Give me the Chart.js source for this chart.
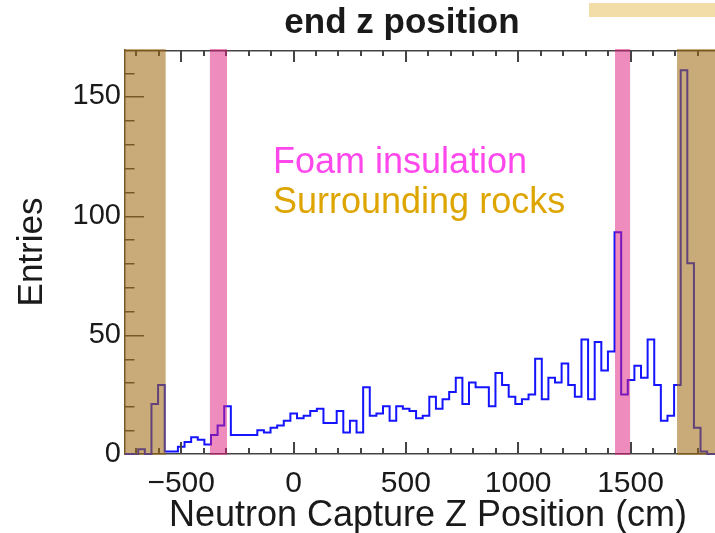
<!DOCTYPE html>
<html>
<head>
<meta charset="utf-8">
<title>end z position</title>
<script src="https://cdn.jsdelivr.net/npm/chart.js@4.4.1/dist/chart.umd.min.js"></script>
<style>
  html, body { margin: 0; padding: 0; background: #fff; }
  #wrap { width: 715px; height: 533px; }
</style>
</head>
<body>
<div id="wrap"><canvas id="chart" width="715" height="533"></canvas></div>
<script>
// histogram binning (cm)
const zLow = -750;
const zHigh = 1900;
const nBins = 90;
// the right side of the frame is cut off in the original picture
const zShownMax = 1876;

// entries per bin
const entries = [
  0, 0, 2, 0, 21, 29, 1, 1, 3, 5,
  7, 6, 4, 8, 12, 20, 8, 8, 8, 8,
  10, 9, 11, 12, 14, 17, 15, 16, 18, 19,
  13, 13, 18, 9, 14, 9, 28, 16, 17, 20,
  14, 20, 19, 18, 15, 16, 24, 19, 23, 26,
  32, 21, 30, 28, 28, 20, 34, 29, 24, 21,
  23, 25, 40, 23, 32, 30, 38, 29, 24, 48,
  23, 47, 35, 43, 93, 25, 31, 37, 32, 48,
  29, 14, 16, 29, 161, 80, 11, 1, 0, 0
];

const xTicks = [-500, 0, 500, 1000, 1500];
const yTicks = [0, 50, 100, 150];

// shaded material regions (cm)
const foamRanges = [[-372, -296], [1431, 1498]];
const rockRanges = [[-750, -569], [1707, 1900]];

const FONT = 'Liberation Sans, Arial, Helvetica, sans-serif';

const edges = [];
for (let i = 0; i <= nBins; i++) edges.push(zLow + i * (zHigh - zLow) / nBins);
const points = entries.map((n, i) => ({ x: edges[i], y: n }));
points.push({ x: edges[nBins], y: entries[nBins - 1] });

// frame, inward ticks, shaded regions and free text
const rootFrame = {
  id: 'rootFrame',
  afterDatasetsDraw(chart) {
    const ctx = chart.ctx;
    const a = chart.chartArea;
    const xs = chart.scales.x;
    const ys = chart.scales.y;
    ctx.save();

    ctx.fillStyle = '#444';
    ctx.fillRect(a.left, a.top, a.right - a.left, 1.5);
    for (let i = -7; i <= 18; i++) {
      const px = Math.round(xs.getPixelForValue(i * 100)) - 1;
      const len = i % 5 === 0 ? 12 : 6;
      ctx.fillRect(px, a.bottom - len, 2, len);
      ctx.fillRect(px, a.top, 2, len);
    }
    for (let i = 1; i <= 16; i++) {
      const py = Math.round(ys.getPixelForValue(i * 10));
      const len = i % 5 === 0 ? 19 : 9.5;
      ctx.fillRect(a.left, py, len, 1.5);
    }

    const band = (ranges, color) => {
      ctx.fillStyle = color;
      ranges.forEach(([lo, hi]) => {
        let x0 = xs.getPixelForValue(lo), x1 = xs.getPixelForValue(hi);
        if (lo <= zLow) x0 = a.left - 1;
        x1 = Math.min(x1, chart.width);
        ctx.fillRect(x0, a.top - 1, x1 - x0, a.bottom - a.top + 2);
      });
    };
    band(rockRanges, 'rgba(159,104,16,0.56)');
    band(foamRanges, 'rgba(221,25,125,0.5)');

    ctx.textAlign = 'left';
    ctx.textBaseline = 'alphabetic';
    ctx.font = '36px ' + FONT;
    ctx.fillStyle = '#ff48ec';
    ctx.fillText('Foam insulation', 273, 173);
    ctx.fillStyle = '#dea500';
    ctx.fillText('Surrounding rocks', 273, 213);

    ctx.textAlign = 'center';
    ctx.font = 'bold 35px ' + FONT;
    ctx.fillStyle = '#1a1a1a';
    ctx.fillText('end z position', 402, 33);

    // x axis title sits a little right of the plot centre in the original
    ctx.font = '36px ' + FONT;
    ctx.fillText('Neutron Capture Z Position (cm)', 428, 526);

    // corner of the stats box that is cut off
    ctx.fillStyle = '#f2dda8';
    ctx.fillRect(589, 3, 126, 14);
    ctx.restore();
  }
};

new Chart(document.getElementById('chart'), {
  type: 'line',
  data: {
    datasets: [{
      data: points,
      borderColor: '#1414ff',
      borderWidth: 2,
      stepped: 'before',
      pointRadius: 0,
      fill: false,
      clip: false
    }]
  },
  options: {
    responsive: false,
    animation: false,
    devicePixelRatio: 1,
    layout: { padding: { top: 50, right: 0, bottom: 0, left: 0 } },
    plugins: { legend: { display: false }, tooltip: { enabled: false } },
    scales: {
      x: {
        type: 'linear',
        min: zLow,
        max: zShownMax,
        afterBuildTicks: s => { s.ticks = xTicks.map(v => ({ value: v })); },
        afterFit: s => { s.height = 79; },
        grid: { display: false, drawTicks: false },
        border: { display: true, color: '#444', width: 1.5 },
        ticks: {
          autoSkip: false, maxRotation: 0, padding: 12,
          font: { family: FONT, size: 30 }, color: '#1a1a1a',
          callback: v => String(v).replace('-', '\u2212')
        }
      },
      y: {
        min: 0,
        max: 169.5,
        afterBuildTicks: s => { s.ticks = yTicks.map(v => ({ value: v })); },
        afterFit: s => { s.width = 125; },
        grid: { display: false, drawTicks: false },
        border: { display: true, color: '#444', width: 1.5 },
        ticks: {
          padding: 4,
          font: { family: FONT, size: 29 }, color: '#1a1a1a',
          callback: v => String(v)
        },
        title: {
          display: true, text: 'Entries',
          font: { family: FONT, size: 35, lineHeight: 1 }, color: '#1a1a1a',
          padding: { top: 15, bottom: 0 }
        }
      }
    }
  },
  plugins: [rootFrame]
});
</script>
</body>
</html>
